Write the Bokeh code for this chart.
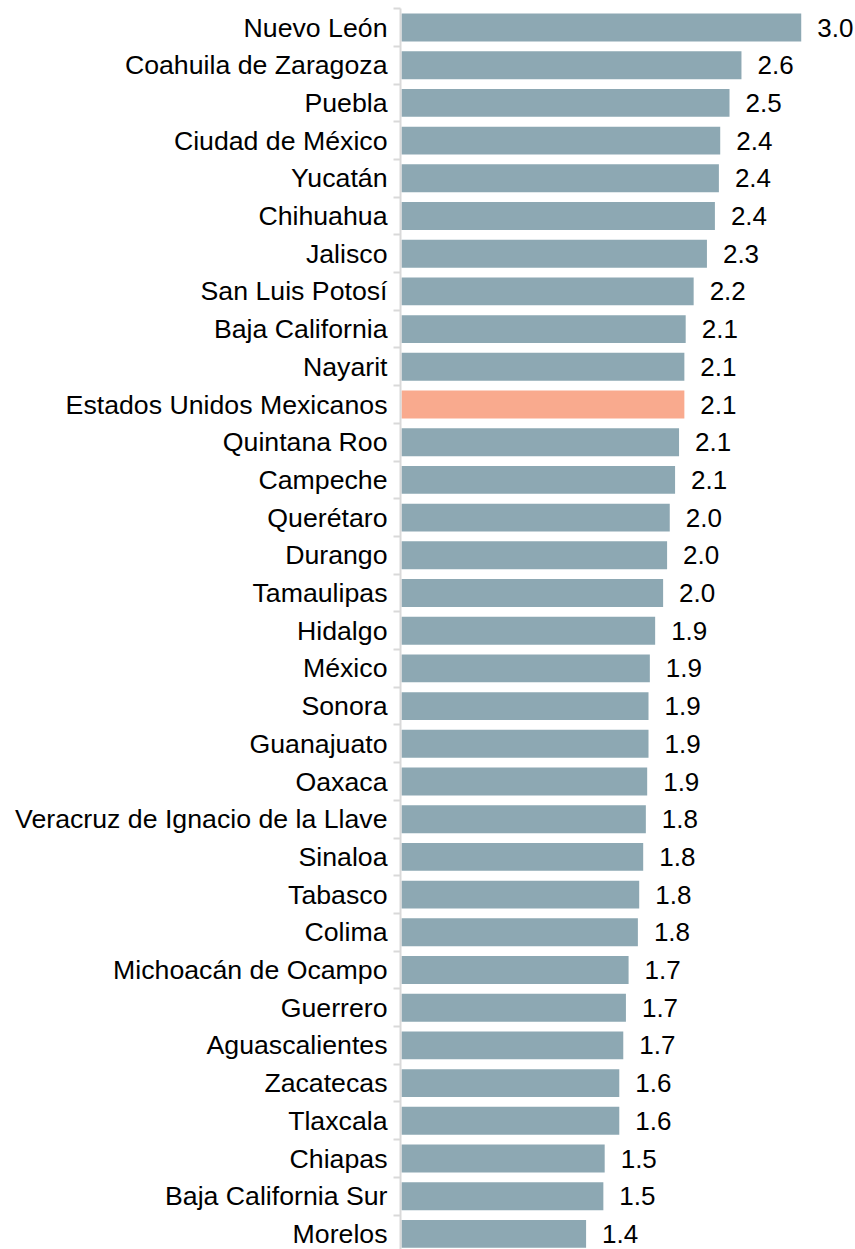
from bokeh.plotting import figure
from bokeh.models import ColumnDataSource, Range1d, LinearAxis, FixedTicker
from bokeh.core.properties import value
from bokeh.embed import file_html
from bokeh.resources import INLINE

states = ["Nuevo León", "Coahuila de Zaragoza", "Puebla", "Ciudad de México", "Yucatán",
          "Chihuahua", "Jalisco", "San Luis Potosí", "Baja California", "Nayarit",
          "Estados Unidos Mexicanos", "Quintana Roo", "Campeche", "Querétaro", "Durango",
          "Tamaulipas", "Hidalgo", "México", "Sonora", "Guanajuato", "Oaxaca",
          "Veracruz de Ignacio de la Llave", "Sinaloa", "Tabasco", "Colima",
          "Michoacán de Ocampo", "Guerrero", "Aguascalientes", "Zacatecas", "Tlaxcala",
          "Chiapas", "Baja California Sur", "Morelos"]
rates = [3.01, 2.56, 2.47, 2.40, 2.39, 2.36, 2.30, 2.20, 2.14, 2.13,
         2.13, 2.09, 2.06, 2.02, 2.00, 1.97, 1.91, 1.87, 1.86, 1.86, 1.85,
         1.84, 1.82, 1.79, 1.78, 1.71, 1.69, 1.67, 1.64, 1.64,
         1.53, 1.52, 1.39]
highlight = "Estados Unidos Mexicanos"

BAR = "#8DA8B3"
HI = "#F9AA8E"
FONT = "Liberation Sans"

n = len(states)
ypos = [n - 1 - i for i in range(n)]
src = ColumnDataSource(dict(
    y=ypos, v=rates,
    lab=[f"{r:.1f}" for r in rates],
    col=[HI if s == highlight else BAR for s in states],
))

px_per_unit = 132.8
frame_w = 455
frame_h = 1249
row_px = 37.7
top = (n - 1) + 27.0 / row_px
x0 = -1 / px_per_unit
p = figure(width=855, height=frame_h, frame_width=frame_w, frame_height=frame_h,
           output_backend="svg", toolbar_location=None,
           x_range=Range1d(x0, x0 + frame_w / px_per_unit),
           y_range=Range1d(top - frame_h / row_px, top),
           x_axis_location=None, y_axis_location=None,
           min_border_left=400, min_border_right=0, min_border_top=0, min_border_bottom=0)
p.outline_line_color = None
p.xgrid.visible = False
p.ygrid.visible = False

p.hbar(y="y", right="v", left=0, height=0.74, fill_color="col", line_color=None, source=src)
p.text(x="v", y="y", text="lab", x_offset=16, y_offset=0, text_align="left",
       text_baseline="middle", text_font=value(FONT), text_font_size="26px",
       text_color="#000000", source=src)

ax = LinearAxis(ticker=FixedTicker(ticks=ypos, minor_ticks=[k - 0.5 for k in range(n + 1)]))
ax.bounds = (-0.5, n - 0.5)
ax.major_label_overrides = {y: s for y, s in zip(ypos, states)}
ax.major_tick_out = 0
ax.major_tick_in = 0
ax.minor_tick_out = 7
ax.minor_tick_in = 0
ax.minor_tick_line_color = "#D9D9D9"
ax.minor_tick_line_width = 2
ax.axis_line_color = "#D9D9D9"
ax.axis_line_width = 2
ax.major_label_standoff = 6
ax.major_label_text_font = FONT
ax.major_label_text_font_size = "26.7px"
ax.major_label_text_color = "#000000"
p.add_layout(ax, "left")

open("out.html", "w").write(file_html(p, INLINE))
